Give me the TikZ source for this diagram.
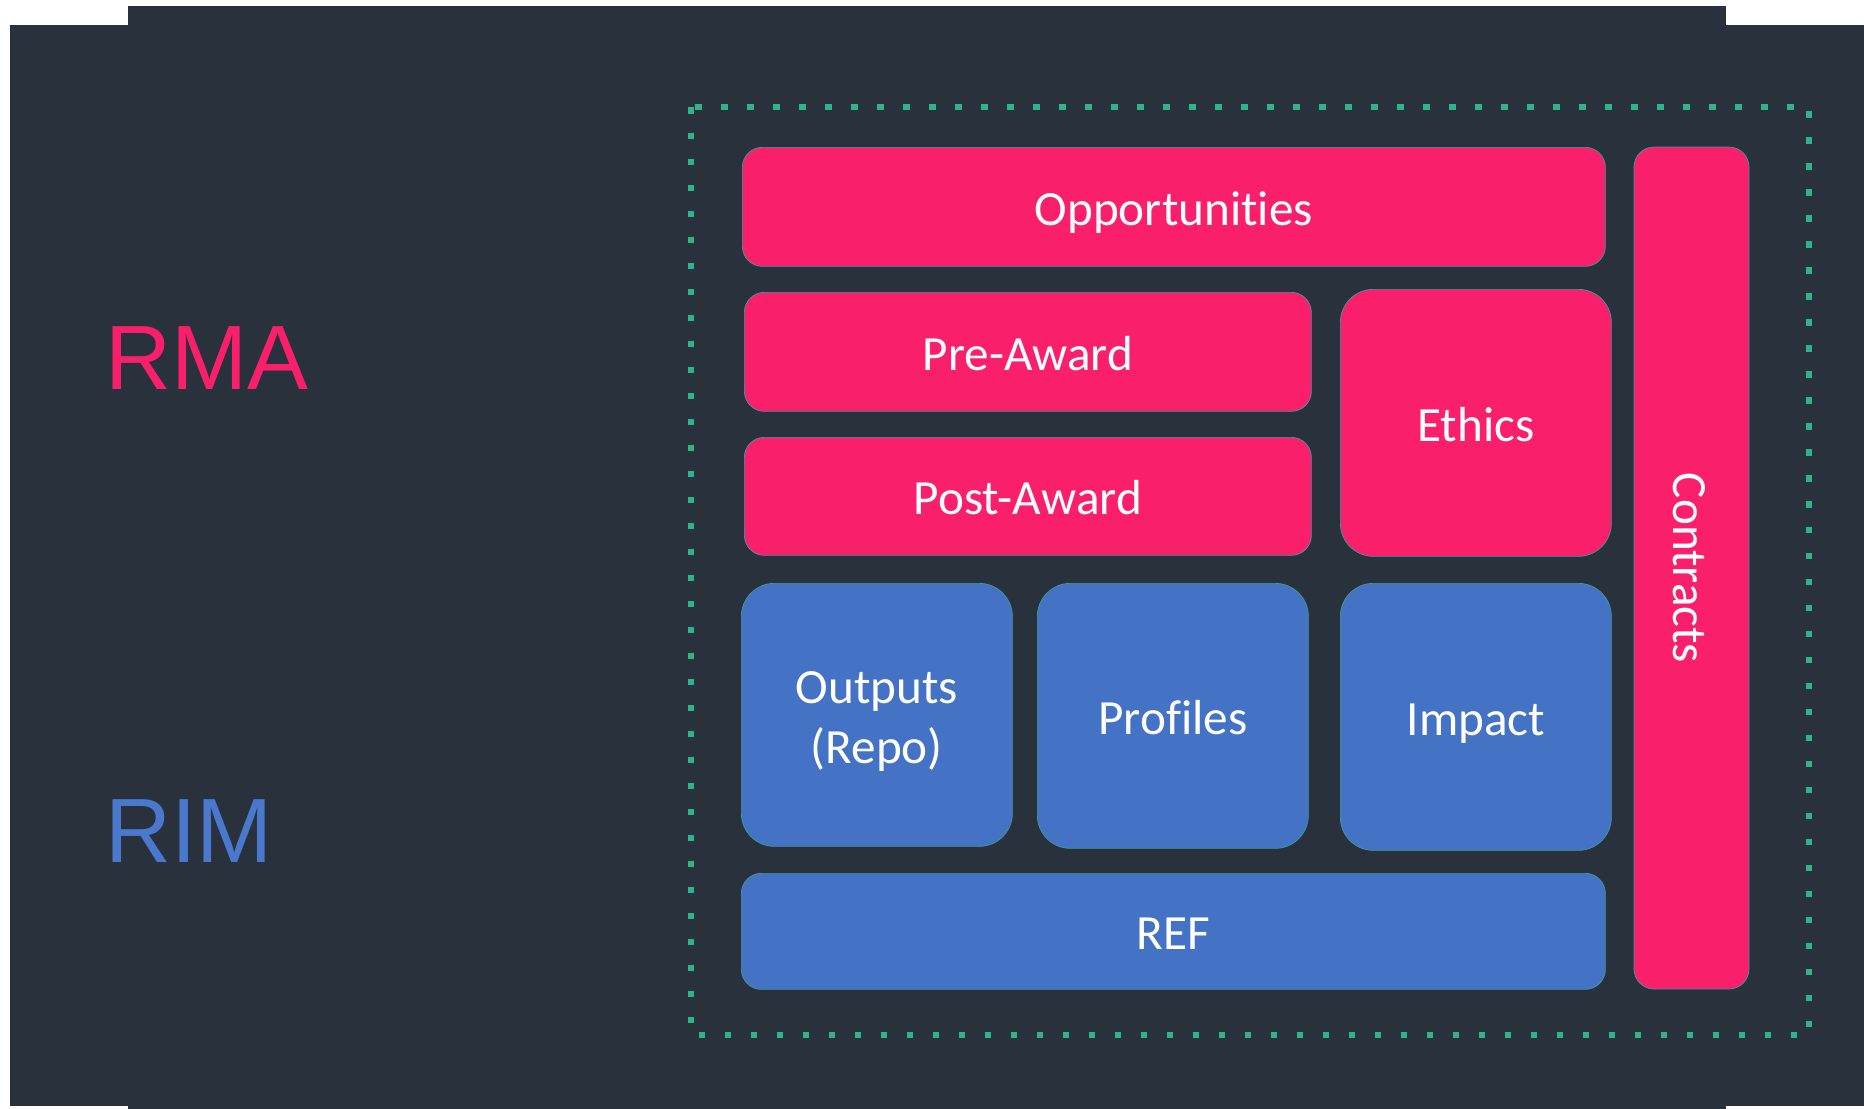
\documentclass[tikz,border=0pt]{standalone}
\usepackage{fontspec}
\setmainfont{Carlito}[Ligatures=CommonOff]
\newfontfamily\sidefont{Liberation Sans}
\usetikzlibrary{positioning}
\definecolor{bgslate}{HTML}{29323C}
\definecolor{rmapink}{HTML}{F91F6B}
\definecolor{rimblue}{HTML}{4472C4}
\definecolor{rimtext}{HTML}{4A78CC}
\definecolor{dotgreen}{HTML}{2DB489}
\definecolor{edgeteal}{HTML}{3E9A9C}

\begin{document}
\begin{tikzpicture}[x=0.02cm, y=-0.02cm]
  \tikzset{BoxStyle/.style 2 args = {shape          = rectangle,
                                     anchor         = north west,
                                     inner sep      = 0pt,
                                     minimum width  = #1*0.02cm,
                                     minimum height = #2*0.02cm,
                                     draw           = edgeteal,
                                     line width     = 0.4pt,
                                     text           = white,
                                     text height    = 21pt,
                                     text depth     = 0pt,
                                     font           = \fontsize{28}{34}\selectfont},
           pinkbox/.style 2 args = {BoxStyle={#1}{#2}, fill=rmapink, rounded corners=0.4cm},
           bluebox/.style 2 args = {BoxStyle={#1}{#2}, fill=rimblue, rounded corners=0.4cm},
           squarebox/.style = {rounded corners=0.66cm},
           sidelabel/.style = {anchor=base west, inner sep=0pt,
                               font=\sidefont\fontsize{52}{60}\selectfont}}
  %%% FOND %%%
  \fill[white] (0,0) rectangle (1864,1109);
  \fill[bgslate] (10,25) rectangle (1864,1106);
  \fill[bgslate] (128,6) rectangle (1726,1109);
  \useasboundingbox (0,0) rectangle (1864,1109);
  %%% CADRE POINTILLE %%%
  \draw[dotgreen, line width=0.13cm, dash pattern=on 0.13cm off 0.39cm]
    (691,107) rectangle (1809,1035);
  %%% RMA / RIM %%%
  \node[sidelabel, text=rmapink](rma) at (105,389){RMA};
  \node[sidelabel, text=rimtext](rim) at (105,862){RIM};
  %%% BLOCS RMA %%%
  \node[pinkbox={863}{119}](opp) at (742,147){Opportunities};
  \node[pinkbox={567}{119}](pre) at (744,292){Pre-Award};
  \node[pinkbox={567}{118}](post) at (744,437){Post-Award};
  \node[pinkbox={271}{267}, squarebox](ethics) at (1340,289){Ethics};
  \node[pinkbox={842}{115}, anchor=center, rotate=-90](contracts) at (1691.5,568){Contracts};
  %%% BLOCS RIM %%%
  \node[bluebox={271}{263}, squarebox](outputs) at (741,583){};
  \node[text=white, align=center, font=\fontsize{28}{34}\selectfont]
    (outputstext) at ([yshift=-0.14cm]outputs.center){Outputs\\(Repo)};
  \node[bluebox={271}{265}, squarebox](profiles) at (1037,583){Profiles};
  \node[bluebox={271}{267}, squarebox](impact) at (1340,583){Impact};
  \node[bluebox={864}{116}](ref) at (741,873){REF};
\end{tikzpicture}
\end{document}
